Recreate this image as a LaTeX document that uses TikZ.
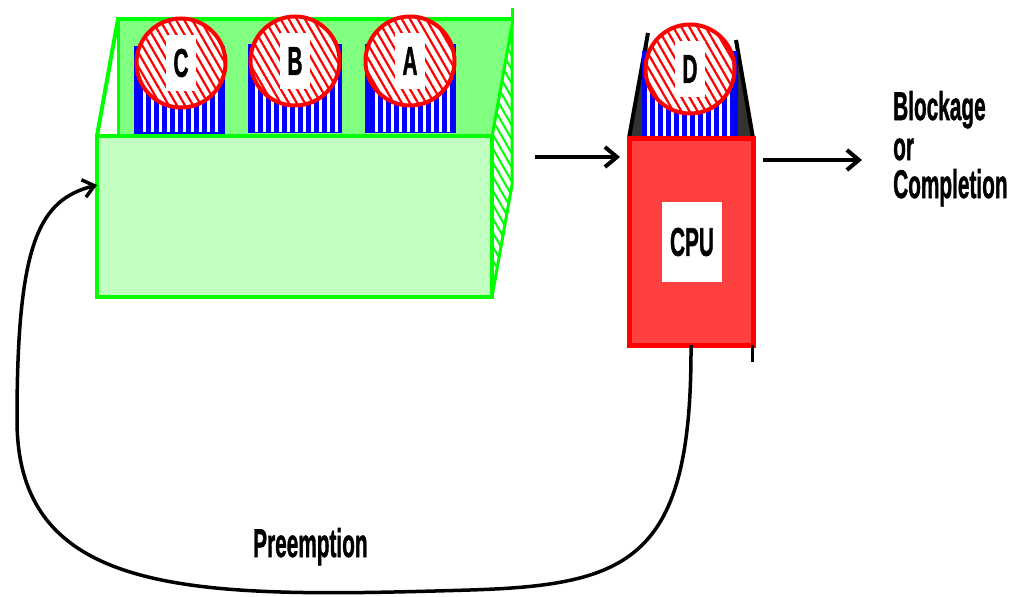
\documentclass[tikz,border=0pt]{standalone}
\usepackage{fontspec}
\setmainfont{Liberation Sans}[BoldFeatures={FakeBold=1.5}]
\usetikzlibrary{patterns.meta,arrows.meta}
\definecolor{gback}{HTML}{80FF80}
\definecolor{gfront}{HTML}{C0FFC0}
\definecolor{gline}{HTML}{00FF00}
\definecolor{cpured}{HTML}{FF4040}
\definecolor{wedge}{HTML}{333333}
\newcommand{\nar}[1]{\scalebox{0.52}[1]{#1}}
\begin{document}
\begin{tikzpicture}[x=1pt,y=-1pt,
  lbl/.style={font=\fontsize{40}{40}\selectfont\bfseries, inner sep=0pt},
  arr/.style={line width=4pt, -{Straight Barb[length=12pt,width=20pt]}},
  stackbox/.style={draw=blue, fill=blue, line width=2.5pt, minimum width=#1, minimum height=87pt, inner sep=0pt, outer sep=0pt},
  stripes/.style={pattern={Lines[angle=90,distance=8pt,line width=3pt]}, pattern color=white},
  proc/.style={circle, minimum size=89pt, inner sep=0pt, draw=red, line width=4pt,
    preaction={fill=white}, pattern={Lines[angle=-60,distance=7pt,line width=2.2pt]}, pattern color=red},
  letter/.style={lbl, fill=white, minimum width=30pt, minimum height=56pt},
  hatchside/.style={preaction={fill=white}, pattern={Lines[angle=-60,distance=7pt,line width=2pt]}, pattern color=gline, draw=gline, line width=3pt}
]
\useasboundingbox (0,0) rectangle (1013,597);
% back panel of the ready queue
\fill[gback] (118,19) rectangle (512,137);
\draw[gline, line width=4pt] (97,136) -- (118,19) -- (512,19);
\draw[gline, line width=3pt] (118,19) -- (118,136);
\draw[gline, line width=3pt] (512,8) -- (512,25);
% hatched right side
\draw[hatchside] (492,137) -- (512,25) -- (512,185) -- (492,297) -- cycle;
% process stacks
\node[stackbox=89pt] (Cs) at (179.5,90.5) {};
\node[stackbox=92pt] (Bs) at (295,88.5) {};
\node[stackbox=89pt] (As) at (410.5,88.5) {};
\fill[stripes] (139,75) rectangle (221,131);
\fill[stripes] (253,75) rectangle (338,131);
\fill[stripes] (370,75) rectangle (452,131);
% processes
\node[proc] (C) at (181,63) {};
\node[proc] (B) at (295,61) {};
\node[proc] (A) at (410,61) {};
\node[letter] (Cl) at (C) {\nar{C}};
\node[letter] (Bl) at (B) {\nar{B}};
\node[letter] (Al) at (A) {\nar{A}};
% front box of the ready queue
\node[draw=gline, fill=gfront, line width=4pt, minimum width=395pt, minimum height=161pt, inner sep=0pt, outer sep=0pt] (queue) at (294.5,216.5) {};
% CPU with running process D
\fill[wedge] (629,138) -- (648,33) -- (645,138) -- cycle;
\fill[wedge] (753,138) -- (736,40) -- (737,138) -- cycle;
\draw[black, line width=4pt] (629,138) -- (648,33);
\draw[black, line width=4pt] (736,40) -- (753,138);
\node[stackbox=94pt] (Ds) at (690,95.5) {};
\fill[stripes] (647,78) rectangle (733,135);
\node[draw=red, fill=cpured, line width=5pt, minimum width=124pt, minimum height=207pt, inner sep=0pt, outer sep=0pt] (cpu) at (691,241.5) {};
\node[fill=white, minimum width=60pt, minimum height=80pt, inner sep=0pt] (cpulbl) at (692,242) {};
\node[lbl] (cputext) at (cpulbl) {\nar{CPU}};
\node[proc] (D) at (690,69) {};
\node[letter] (Dl) at (D) {\nar{D}};
\draw[line width=3pt] (752,345) -- (752,362);
% connectors
\coordinate (qout) at (535,157);
\coordinate (done) at (862,160);
\coordinate (qin) at (97,185);
\draw[arr] (qout) -- ([xshift=-9pt]cpu.west |- qout);
\draw[arr] ([xshift=10pt]cpu.east |- done) -- (done);
\draw[line width=3.5pt, -{Straight Barb[length=11pt,width=18pt]}]
  (cpu.south) .. controls (692,560) and (630,585) .. (470,590)
  .. controls (200,598) and (17,600) .. (17,420)
  .. controls (17,240) and (40,200) .. (qin);
% labels
\node[lbl, anchor=base west] (t1) at (893,120) {\nar{Blockage}};
\node[lbl, anchor=base west] (t2) at (893,160) {\nar{or}};
\node[lbl, anchor=base west] (t3) at (893,198) {\nar{Completion}};
\node[lbl, anchor=base west] (pre) at (253,557) {\nar{Preemption}};
\end{tikzpicture}
\end{document}
